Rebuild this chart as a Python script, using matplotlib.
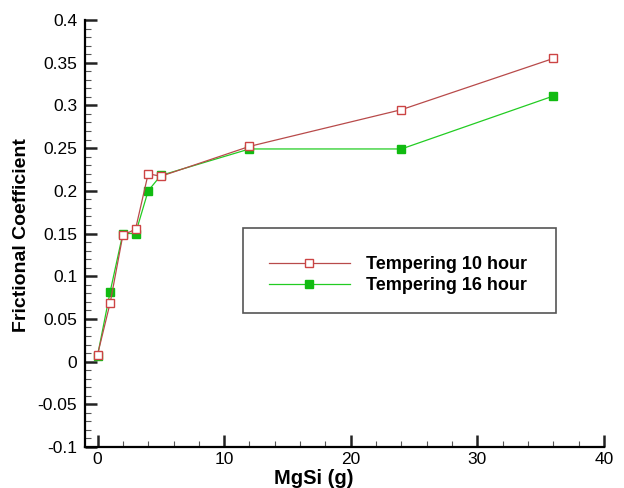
import matplotlib
matplotlib.use("Agg")
import matplotlib.pyplot as plt
from matplotlib.ticker import MultipleLocator
from matplotlib.patches import Rectangle

plt.rcParams["font.family"] = ["Liberation Sans", "DejaVu Sans"]

# data
mgsi = [0, 1, 2, 3, 4, 5, 12, 24, 36]
temp_10h = [0.008, 0.069, 0.148, 0.155, 0.220, 0.217, 0.252, 0.295, 0.355]
temp_16h = [0.007, 0.082, 0.150, 0.150, 0.200, 0.218, 0.249, 0.249, 0.311]

red = "#b84a4a"
green = "#22cc22"

fig = plt.figure(figsize=(6.24, 4.88), dpi=100)
ax = fig.add_axes([0.136, 0.084, 0.832, 0.875])

ax.plot(mgsi, temp_10h, color=red, lw=0.9, marker="s", ms=5.5,
        mfc="white", mec="#cc4444", mew=1.0, label="Tempering 10 hour", zorder=3)
ax.plot(mgsi, temp_16h, color=green, lw=0.9, marker="s", ms=5.5,
        mfc="#11bb11", mec="#11bb11", label="Tempering 16 hour", zorder=2)

ax.set_xlim(-1, 40)
ax.set_ylim(-0.1, 0.4)
ax.xaxis.set_major_locator(MultipleLocator(10))
ax.xaxis.set_minor_locator(MultipleLocator(2))
ax.yaxis.set_minor_locator(MultipleLocator(0.01))
yt = [-0.1, -0.05, 0, 0.05, 0.1, 0.15, 0.2, 0.25, 0.3, 0.35, 0.4]
ax.set_yticks(yt)
ax.set_yticklabels(["-0.1", "-0.05", "0", "0.05", "0.1", "0.15", "0.2",
                    "0.25", "0.3", "0.35", "0.4"])

ax.spines["top"].set_visible(False)
ax.spines["right"].set_visible(False)
ax.spines["left"].set_linewidth(1.6)
ax.spines["bottom"].set_linewidth(1.6)
ax.tick_params(which="major", direction="in", length=8.6, width=1.8,
               labelsize=12.5, color="#222222")
ax.tick_params(axis="y", which="major", pad=5.5)
ax.tick_params(axis="x", which="major", pad=3.5)
ax.tick_params(which="minor", direction="in", length=4.3, width=0.8,
               color="#555555")

ax.set_xlabel("MgSi (g)", fontsize=14.5, fontweight="bold")
ax.xaxis.set_label_coords(0.441, -0.052)
ax.set_ylabel("Frictional Coefficient", fontsize=14, fontweight="bold")
ax.yaxis.set_label_coords(-0.106, 0.496)

# legend frame drawn by hand, legend entries inside
ax.add_patch(Rectangle((0.304, 0.314), 0.604, 0.199, transform=ax.transAxes,
                       fill=True, facecolor="white", edgecolor="#555555",
                       lw=1.2, zorder=4, clip_on=False))
leg = ax.legend(loc="center left", bbox_to_anchor=(0.354, 0.403),
                fontsize=13, frameon=False, handlelength=4.5,
                labelspacing=0.22, handletextpad=0.9, borderaxespad=0,
                borderpad=0)
leg.set_zorder(5)
for t in leg.get_texts():
    t.set_fontweight("bold")

fig.savefig("out.png", dpi=100)
